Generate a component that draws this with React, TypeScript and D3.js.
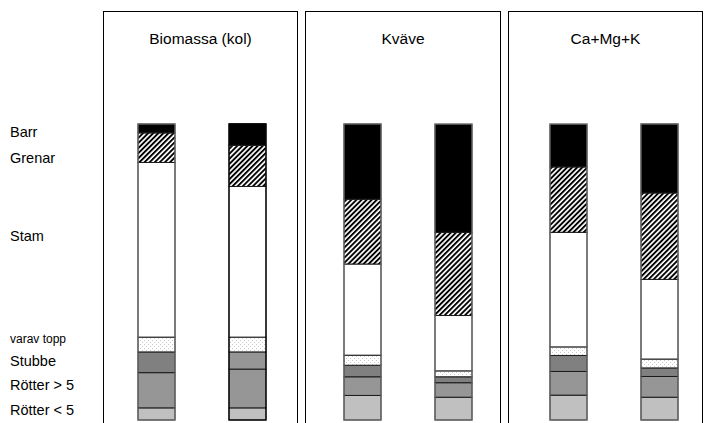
import * as d3 from "d3";
import React from "react";

// panel titles and the two stands shown in each panel
const panels = ["Biomassa (kol)", "Kväve", "Ca+Mg+K"];
const stands = ["1", "2"];

// component share (%) per bar, in order P1B1, P1B2, P2B1, P2B2, P3B1, P3B2
const rotterUnder5 = [4.1, 4.1, 8.3, 7.7, 8.4, 7.7];
const rotterOver5 = [11.9, 13.1, 6.3, 4.9, 8.0, 7.0];
const stubbe = [7.0, 5.8, 3.9, 2.0, 5.4, 2.9];
const topp = [5.0, 5.0, 3.4, 2.0, 2.9, 3.0];
const stam = [59.0, 50.9, 30.8, 18.7, 38.7, 26.9];
const grenar = [10.0, 13.9, 21.9, 28.1, 22.1, 29.2];
const barr = [3.0, 7.3, 25.4, 36.5, 14.4, 23.3];

const keys = ["rotterUnder5", "rotterOver5", "stubbe", "topp", "stam", "grenar", "barr"];
const legendLabels = ["Barr", "Grenar", "Stam", "varav topp", "Stubbe", "Rötter > 5", "Rötter < 5"];

const W = 707;
const H = 423;
const FONT = "'Liberation Sans', Arial, sans-serif";

const fills: Record<string, string> = {
  rotterUnder5: "#c0c0c0",
  rotterOver5: "#969696",
  stubbe: "#808080",
  topp: "url(#dots)",
  stam: "#ffffff",
  grenar: "url(#hatch)",
  barr: "#000000",
};

// layout of the framed panels
const panelBoxes = [
  { x0: 103.5, x1: 297.5 },
  { x0: 305.5, x1: 500.5 },
  { x0: 508.5, x1: 702.5 },
];
const legendY = [137, 163, 241, 343, 366, 390, 415];
const legendSize = [14.5, 14.5, 14.5, 12, 14.5, 14.5, 14.5];

export default function App() {
  const rows = panels.flatMap((p, pi) =>
    stands.map((s, si) => {
      const i = pi * stands.length + si;
      return {
        panel: p,
        stand: s,
        rotterUnder5: rotterUnder5[i],
        rotterOver5: rotterOver5[i],
        stubbe: stubbe[i],
        topp: topp[i],
        stam: stam[i],
        grenar: grenar[i],
        barr: barr[i],
      };
    }),
  );

  const series = d3.stack<any>().keys(keys)(rows);

  const xGroup = d3.scaleBand().domain(panels).range([99, 717]);
  const xStand = d3.scalePoint().domain(stands).range([-45.5, 45.5]);
  const barW = 37;
  const y = d3.scaleLinear().domain([0, 100]).range([420, 124]);

  const cx = (d: any) => xGroup(d.panel)! + xGroup.bandwidth() / 2 + xStand(d.stand)!;

  return (
    <svg
      width={W}
      height={H}
      style={{ position: "absolute", left: 0, top: 0, background: "#fff" }}
      fontFamily={FONT}
    >
      <defs>
        <pattern id="hatch" width={3.6} height={3.6} patternUnits="userSpaceOnUse" patternTransform="rotate(45)">
          <rect width={3.6} height={3.6} fill="#fff" />
          <rect width={1.9} height={3.6} fill="#000" />
        </pattern>
        <pattern id="dots" width={4} height={4} patternUnits="userSpaceOnUse">
          <rect width={4} height={4} fill="#fff" />
          <rect x={0} y={0} width={1} height={1} fill="#c8c8c8" />
          <rect x={2} y={2} width={1} height={1} fill="#c8c8c8" />
        </pattern>
      </defs>

      {panelBoxes.map((b, i) => (
        <g key={panels[i]}>
          <rect x={b.x0} y={11.5} width={b.x1 - b.x0} height={H + 10} fill="none" stroke="#000" strokeWidth={1} />
          <text x={(b.x0 + b.x1) / 2} y={44} fontSize={15.5} textAnchor="middle" fill="#000">
            {panels[i]}
          </text>
        </g>
      ))}

      {series.map((s) => (
        <g key={s.key}>
          {s.map((seg, j) => {
            const d = seg.data;
            let fill = fills[s.key];
            if (s.key === "stubbe" && j === 1) fill = "#969696";
            return (
              <rect
                key={j}
                x={cx(d) - barW / 2}
                y={y(seg[1])}
                width={barW}
                height={y(seg[0]) - y(seg[1])}
                fill={fill}
                stroke="#1a1a1a"
                strokeWidth={1}
              />
            );
          })}
        </g>
      ))}

      {rows.map((d, j) => (
        <rect
          key={j}
          x={cx(d) - barW / 2}
          y={y(100)}
          width={barW}
          height={y(0) - y(100)}
          fill="none"
          stroke={j === 1 ? "#000" : "#707070"}
          strokeWidth={1.2}
        />
      ))}

      {legendLabels.map((l, i) => (
        <text key={l} x={10} y={legendY[i]} fontSize={legendSize[i]} fill="#000">
          {l}
        </text>
      ))}
    </svg>
  );
}
